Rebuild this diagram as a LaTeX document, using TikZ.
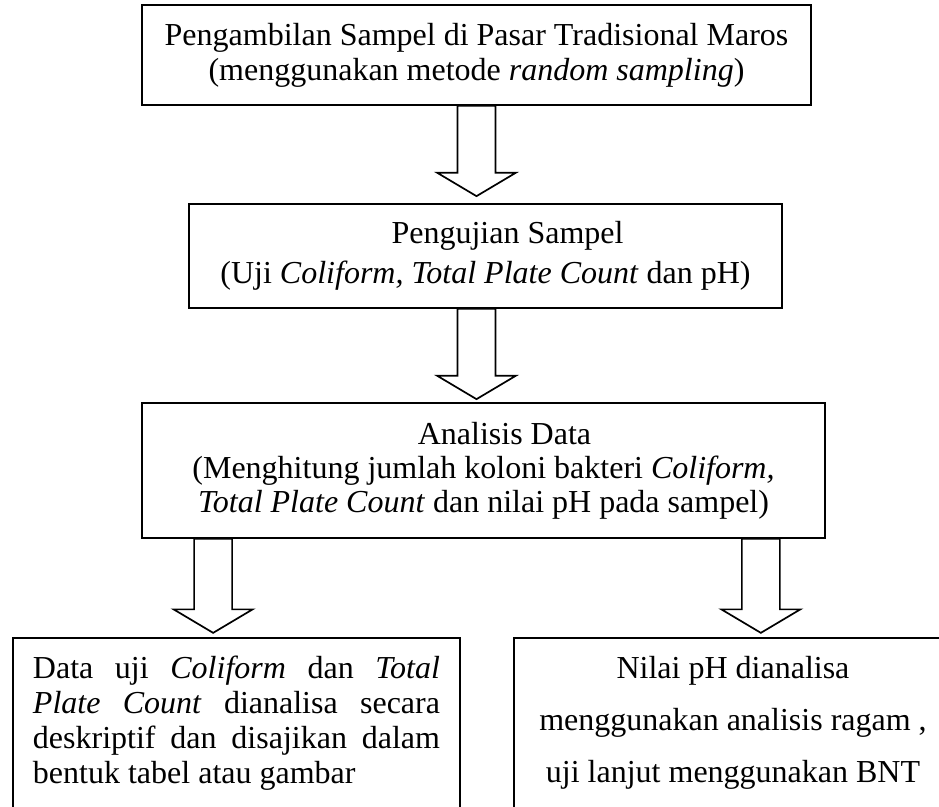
\documentclass[tikz,border=0pt]{standalone}
\usepackage{fontspec}
\setmainfont{Liberation Serif}
\usepackage{tikz}
\usetikzlibrary{calc, positioning}

% block arrow: #1 = start of shaft, #2 = tip
\newcommand{\panah}[2]{%
  \draw[panahblok] let \p1=(#1), \p2=(#2) in
    (\x1-9.5bp,\y1) -- (\x1-9.5bp,\y2+11.75bp) -- (\x1-19.75bp,\y2+11.75bp) -- (\x1,\y2)
    -- (\x1+19.75bp,\y2+11.75bp) -- (\x1+9.5bp,\y2+11.75bp) -- (\x1+9.5bp,\y1) -- cycle;}

\begin{document}
\begin{tikzpicture}[
    x=0.5bp, y=-0.5bp,
    kotak/.style={draw, line width=0.85bp, align=center, inner sep=0pt},
    teks/.style={font=\fontsize{16bp}{#1}\selectfont},
    kotakbawah/.style={draw, line width=0.85bp, anchor=north, inner xsep=10bp, inner ysep=9bp,
      text depth=95bp},
    panahblok/.style={draw, line width=0.85bp, fill=white, line join=miter},
  ]
    \useasboundingbox (0,0) rectangle (939,807);
    \clip (0,0) rectangle (939,807);

    \node[kotak, teks=17.5bp, minimum width=334.5bp, minimum height=50bp] (ambil) at (476.5,55)
      {Pengambilan Sampel di Pasar Tradisional Maros\\(menggunakan metode \textit{random sampling})};

    \node[kotak, teks=20bp, minimum width=296.5bp, minimum height=52bp] (uji) at (485.5,256)
      {\hspace*{22bp}Pengujian Sampel\\(Uji \textit{Coliform, Total Plate Count} dan pH)};

    \node[kotak, teks=17bp, minimum width=341.5bp, minimum height=67.5bp] (analisis) at (483.5,470.5)
      {\hspace*{21bp}Analisis Data\\(Menghitung jumlah koloni bakteri \textit{Coliform,}\\
       \textit{Total Plate Count} dan nilai pH pada sampel)};

    \node[kotakbawah, teks=17.5bp, text width=203.5bp, align=justify] (hasilkiri) at (236.5,637)
      {Data uji \textit{Coliform} dan \textit{Total}\linebreak
       \textit{Plate Count} dianalisa secara\linebreak
       deskriptif dan disajikan dalam\linebreak
       bentuk tabel atau gambar};

    \node[kotakbawah, teks=26bp, text width=199bp, align=flush center] (hasilkanan) at (733,637)
      {Nilai pH dianalisa\\menggunakan analisis ragam ,\\uji lanjut menggunakan BNT};

    \panah{ambil.south}{$(ambil.south |- uji.north)+(0,-7)$}
    \panah{ambil.south |- uji.south}{$(ambil.south |- analisis.north)+(0,-3)$}
    \panah{$(analisis.south west)+(72,0)$}{$(analisis.south west)+(72,94)$}
    \panah{$(analisis.south east)+(-65,0)$}{$(analisis.south east)+(-65,94)$}
  \end{tikzpicture}
\end{document}
